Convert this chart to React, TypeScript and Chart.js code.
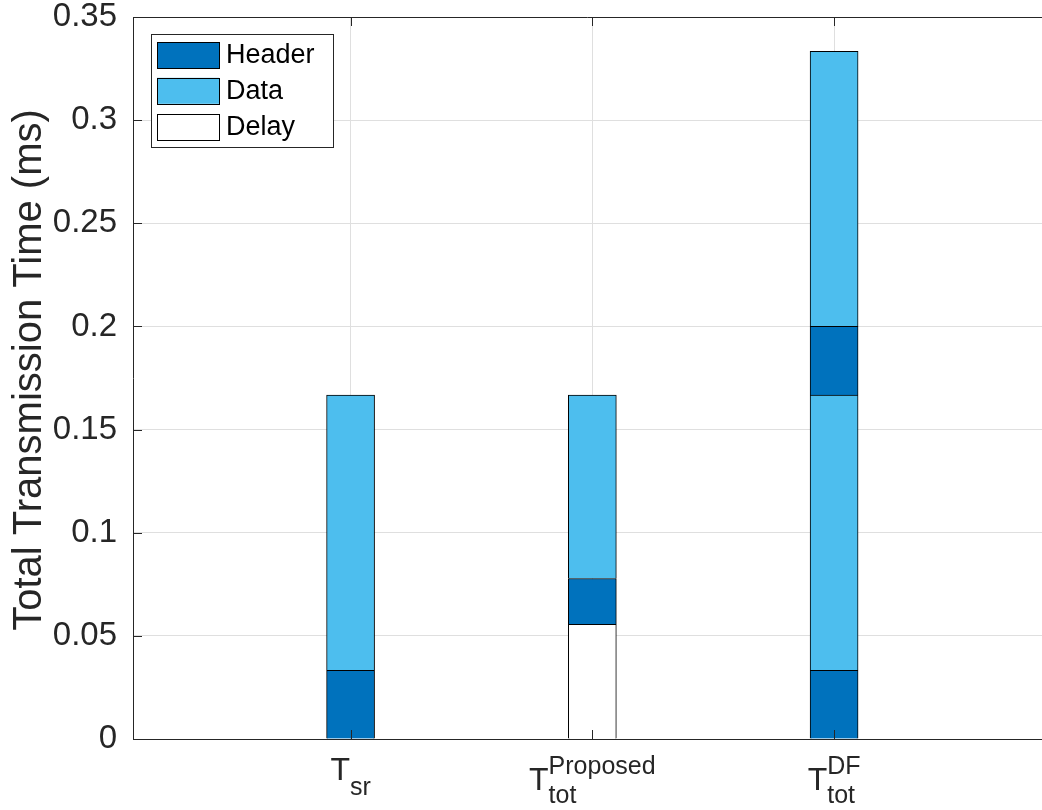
import React, { useEffect, useRef } from 'react';
import { Chart, registerables } from 'chart.js';

Chart.register(...registerables);

// ---- data ----
const categoryX = [1, 2, 3];
const tickBase = ['T', 'T', 'T'];
const tickSub = ['sr', 'tot', 'tot'];
const tickSup = ['', 'Proposed', 'DF'];

const yTickValues = [0, 0.05, 0.1, 0.15, 0.2, 0.25, 0.3, 0.35];
const yTickLabels = ['0', '0.05', '0.1', '0.15', '0.2', '0.25', '0.3', '0.35'];

// stacked segments, bottom to top (null = no segment)
const segment1Values = [0.0333, 0.0556, 0.0333];
const segment1Kinds = ['Header', 'Delay', 'Header'];
const segment2Values = [0.1334, 0.0222, 0.1334];
const segment2Kinds = ['Data', 'Header', 'Data'];
const segment3Values = [null, 0.0889, 0.0333];
const segment3Kinds = ['', 'Data', 'Header'];
const segment4Values = [null, null, 0.1333];
const segment4Kinds = ['', '', 'Data'];

const legendLabels = ['Header', 'Data', 'Delay'];
const kindColors: Record<string, string> = {
  Header: '#0072BD',
  Data: '#4DBEEE',
  Delay: '#FFFFFF',
  '': '#FFFFFF',
};

const yTitle = 'Total Transmission Time (ms)';

const FONT = '"Liberation Sans", Arial, Helvetica, sans-serif';
const AXIS_COLOR = '#262626';
const GRID_COLOR = '#dfdfdf';

function makeDataset(values: (number | null)[], kinds: string[]) {
  return {
    data: values.map((v, i) => ({ x: categoryX[i], y: v })),
    backgroundColor: kinds.map((k) => kindColors[k]),
    borderColor: '#000000',
    borderWidth: { top: 1, left: 1, right: 1, bottom: 0 },
    borderSkipped: false as const,
    barThickness: 48,
  };
}

const decorPlugin = {
  id: 'decor',
  afterDatasetsDraw(chart: any) {
    const { ctx, chartArea } = chart;
    const xs = chart.scales.x;
    const ys = chart.scales.y;
    ctx.save();
    ctx.strokeStyle = AXIS_COLOR;
    ctx.lineWidth = 1;
    // top box line
    ctx.beginPath();
    ctx.moveTo(chartArea.left, chartArea.top + 0.5);
    ctx.lineTo(chartArea.right, chartArea.top + 0.5);
    ctx.stroke();
    // inward tick marks
    const tl = 9;
    ctx.beginPath();
    yTickValues.forEach((v) => {
      const y = Math.round(ys.getPixelForValue(v)) + 0.5;
      ctx.moveTo(chartArea.left, y);
      ctx.lineTo(chartArea.left + tl, y);
    });
    categoryX.forEach((v) => {
      const x = Math.round(xs.getPixelForValue(v)) + 0.5;
      ctx.moveTo(x, chartArea.bottom);
      ctx.lineTo(x, chartArea.bottom - tl);
      ctx.moveTo(x, chartArea.top);
      ctx.lineTo(x, chartArea.top + tl);
    });
    ctx.stroke();
    ctx.restore();
  },
  afterDraw(chart: any) {
    const { ctx, chartArea } = chart;
    const xs = chart.scales.x;
    ctx.save();

    // ---- legend ----
    const lx = chartArea.left + 18;
    const ly = chartArea.top + 17;
    const lw = 182;
    const lh = 113;
    ctx.fillStyle = '#ffffff';
    ctx.fillRect(lx, ly, lw, lh);
    ctx.strokeStyle = AXIS_COLOR;
    ctx.lineWidth = 1;
    ctx.strokeRect(Math.round(lx) + 0.5, Math.round(ly) + 0.5, lw, lh);
    ctx.font = `27px ${FONT}`;
    ctx.textBaseline = 'middle';
    ctx.textAlign = 'left';
    legendLabels.forEach((lab, i) => {
      const sy = ly + 8 + i * 35.8;
      ctx.fillStyle = kindColors[lab];
      ctx.fillRect(lx + 6, sy, 62, 26);
      ctx.strokeStyle = '#000000';
      ctx.strokeRect(Math.round(lx + 6) + 0.5, Math.round(sy) + 0.5, 62, 26);
      ctx.fillStyle = '#000000';
      ctx.fillText(lab, lx + 75, sy + 14);
    });

    // ---- x tick labels with sub/superscripts ----
    ctx.fillStyle = AXIS_COLOR;
    ctx.textBaseline = 'alphabetic';
    const baseFont = `32px ${FONT}`;
    const smallFont = `25px ${FONT}`;
    categoryX.forEach((v, i) => {
      const cx = xs.getPixelForValue(v);
      ctx.font = baseFont;
      const wb = ctx.measureText(tickBase[i]).width;
      ctx.font = smallFont;
      const wsub = ctx.measureText(tickSub[i]).width;
      const wsup = tickSup[i] ? ctx.measureText(tickSup[i]).width : 0;
      const total = wb + Math.max(wsub, wsup);
      const x0 = cx - total / 2;
      const hasSup = !!tickSup[i];
      const baseY = chartArea.bottom + (hasSup ? 51 : 41);
      ctx.font = baseFont;
      ctx.fillText(tickBase[i], x0, baseY);
      ctx.font = smallFont;
      ctx.fillText(tickSub[i], x0 + wb, baseY + (hasSup ? 13 : 15));
      if (hasSup) ctx.fillText(tickSup[i], x0 + wb, baseY - 16);
    });

    // ---- y axis title ----
    ctx.font = `40px ${FONT}`;
    ctx.textAlign = 'center';
    ctx.textBaseline = 'middle';
    ctx.translate(30, (chartArea.top + chartArea.bottom) / 2 - 8);
    ctx.rotate(-Math.PI / 2);
    ctx.fillText(yTitle, 0, 0);
    ctx.restore();
  },
};

export default function App() {
  const canvasRef = useRef<HTMLCanvasElement | null>(null);

  useEffect(() => {
    const canvas = canvasRef.current;
    if (!canvas) return;
    const chart = new Chart(canvas, {
      type: 'bar',
      data: {
        datasets: [
          makeDataset(segment1Values, segment1Kinds),
          makeDataset(segment2Values, segment2Kinds),
          makeDataset(segment3Values, segment3Kinds),
          makeDataset(segment4Values, segment4Kinds),
        ] as any,
      },
      options: {
        responsive: false,
        animation: false,
        devicePixelRatio: 1,
        layout: { padding: { top: 17, left: 0, right: 0, bottom: 0 } },
        plugins: {
          legend: { display: false },
          tooltip: { enabled: false },
        },
        scales: {
          x: {
            type: 'linear',
            stacked: true,
            offset: false,
            min: 0.1,
            max: 3.86,
            afterBuildTicks: (s: any) => {
              s.ticks = categoryX.map((v) => ({ value: v }));
            },
            afterFit: (s: any) => {
              s.height = 71;
              s.paddingLeft = 0;
              s.paddingRight = 0;
            },
            ticks: { display: false },
            grid: { color: GRID_COLOR, drawTicks: false, lineWidth: 1, offset: false },
            border: { color: AXIS_COLOR, width: 1 },
          },
          y: {
            stacked: true,
            min: 0,
            max: 0.35,
            afterBuildTicks: (s: any) => {
              s.ticks = yTickValues.map((v) => ({ value: v }));
            },
            afterFit: (s: any) => {
              s.width = 133;
              s.paddingTop = 0;
              s.paddingBottom = 0;
            },
            ticks: {
              callback: (_v: any, i: number) => yTickLabels[i],
              padding: 16,
              color: AXIS_COLOR,
              font: { family: FONT, size: 33, lineHeight: 1 },
            },
            grid: { color: GRID_COLOR, drawTicks: false, lineWidth: 1 },
            border: { color: AXIS_COLOR, width: 1 },
          },
        },
      } as any,
      plugins: [decorPlugin],
    });
    return () => chart.destroy();
  }, []);

  return (
    <div style={{ position: 'absolute', left: 0, top: 0, width: 1042, height: 810, background: '#ffffff' }}>
      <canvas ref={canvasRef} width={1042} height={810} style={{ display: 'block' }} />
    </div>
  );
}
